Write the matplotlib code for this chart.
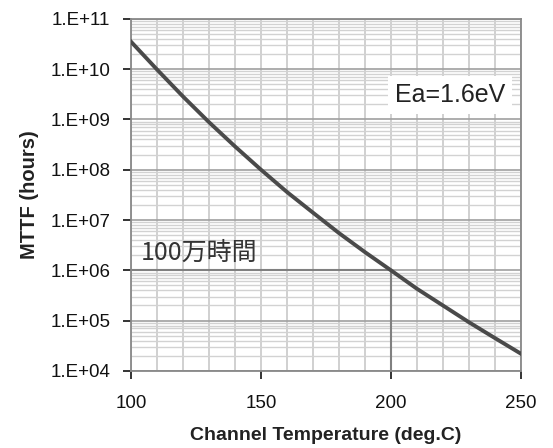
import matplotlib
matplotlib.use('Agg')
from matplotlib import pyplot as plt
from matplotlib.ticker import LogLocator, FixedLocator, MultipleLocator
import numpy as np

# channel temperature (deg.C) and MTTF (hours)
temps = [100, 110, 120, 130, 140, 150, 160, 170, 180, 190, 200, 210, 220, 230, 240, 250]
mttf = [3.5e10, 9.8e9, 2.85e9, 8.8e8, 2.9e8, 1.0e8, 3.6e7, 1.4e7, 5.5e6, 2.3e6,
        1.0e6, 4.3e5, 2.0e5, 9.3e4, 4.5e4, 2.2e4]

ytick_vals = [1e4, 1e5, 1e6, 1e7, 1e8, 1e9, 1e10, 1e11]
ytick_labels = ['1.E+04', '1.E+05', '1.E+06', '1.E+07', '1.E+08', '1.E+09', '1.E+10', '1.E+11']
xtick_vals = [100, 150, 200, 250]

plt.rcParams['font.family'] = ['Liberation Sans', 'DejaVu Sans']

fig = plt.figure(figsize=(5.53, 4.48), dpi=100)
ax = fig.add_axes([0.237, 0.172, 0.705, 0.786])

ax.set_yscale('log')
ax.set_xlim(100, 250)
ax.set_ylim(1e4, 1e11)

ax.yaxis.set_major_locator(FixedLocator(ytick_vals))
ax.yaxis.set_minor_locator(LogLocator(base=10, subs=np.arange(2, 10)))
ax.set_yticks(ytick_vals, ytick_labels)
ax.xaxis.set_major_locator(FixedLocator(xtick_vals))
ax.xaxis.set_minor_locator(MultipleLocator(10))

ax.grid(True, which='minor', axis='y', color='#d2d2d2', lw=1.0)
ax.grid(True, which='major', axis='y', color='#a0a0a0', lw=1.2)
ax.grid(True, which='both', axis='x', color='#c8c8c8', lw=1.2)
ax.set_axisbelow(True)

# 1,000,000 hour marker lines
ax.plot([100, 200], [1e6, 1e6], color='#808080', lw=1.5, zorder=2)
ax.plot([200, 200], [1e4, 1e6], color='#808080', lw=1.5, zorder=2)

ax.plot(temps, mttf, color='#4a4a4a', lw=2.8, zorder=3)

ax.tick_params(axis='y', which='major', pad=9)
ax.tick_params(axis='x', which='major', pad=11)
ax.tick_params(axis='both', which='major', labelsize=13.5, colors='#111111',
               length=6, width=1.2, direction='out')
ax.tick_params(axis='both', which='minor', length=0)
for s in ax.spines.values():
    s.set_color('#888888')
    s.set_linewidth(1.3)

ax.set_xlabel('Channel Temperature (deg.C)', fontsize=14, fontweight='bold',
              color='#222222', labelpad=11)
ax.set_ylabel('MTTF (hours)', fontsize=14.5, fontweight='bold', color='#222222', labelpad=8)

ax.text(0.818, 0.784, 'Ea=1.6eV', transform=ax.transAxes, fontsize=18, color='#222222',
        ha='center', va='center',
        bbox=dict(facecolor='white', edgecolor='none', pad=5), zorder=4)
ax.text(0.025, 0.335, '100万時間', transform=ax.transAxes, fontsize=18, color='#333333',
        ha='left', va='center', family=['Noto Sans CJK JP', 'DejaVu Sans'], zorder=4)

fig.savefig('out.png', dpi=100)
